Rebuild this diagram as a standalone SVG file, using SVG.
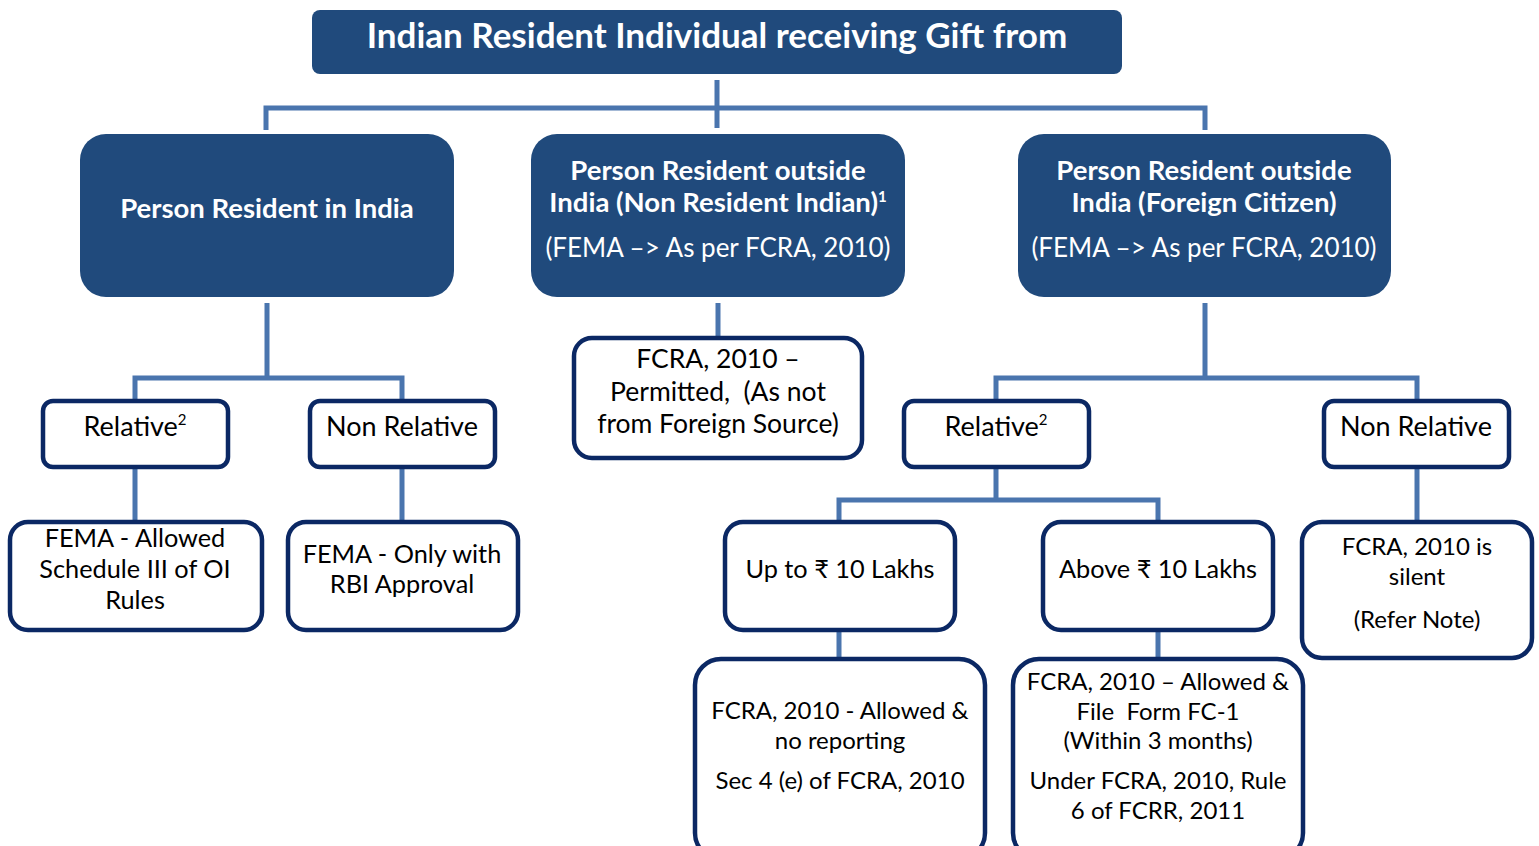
<svg xmlns="http://www.w3.org/2000/svg" width="1539" height="846" viewBox="0 0 1539 846">
<style>
.dark{fill:#204a7c}
.lite{fill:#ffffff;stroke:#0b2864;stroke-width:4.5}
.conn{stroke:#4a75ae;stroke-width:5;fill:none}
text{font-family:Lato,"Noto Sans","DejaVu Sans",sans-serif;text-anchor:middle;white-space:pre}
.w{fill:#ffffff;font-size:26px}
.wb{fill:#ffffff;font-size:27.5px;font-weight:bold}
.t{fill:#000000;font-size:24px}
.t27{fill:#000000;font-size:27px}
.t25{fill:#000000;font-size:25.3px}
.t26{fill:#000000;font-size:26.5px}
.title{fill:#ffffff;font-size:35px;font-weight:bold}
.sup{font-size:15px}
</style>
<rect width="1539" height="846" fill="#ffffff"/>
<g id="connectors">
<path class="conn" d="M717,80 V128 M266,130 V108 H1205 V130"/>
<path class="conn" d="M267,303 V378 M135,400 V378 H402 V400"/>
<path class="conn" d="M135,467 V522 M402,467 V522"/>
<path class="conn" d="M718,303 V338"/>
<path class="conn" d="M1205,303 V378 M996,400 V378 H1417 V400"/>
<path class="conn" d="M996,467 V500 M839,522 V500 H1158 V522"/>
<path class="conn" d="M1417,467 V522"/>
<path class="conn" d="M839,630 V658 M1158,630 V658"/>
</g>
<g id="top">
<rect class="dark" x="312" y="10" width="810" height="64" rx="8"/>
<text class="title" x="717" y="48">Indian Resident Individual receiving Gift from</text>
</g>
<g id="resident-india">
<rect class="dark" x="80" y="134" width="374" height="163" rx="26"/>
<text class="wb" x="267" y="218">Person Resident in India</text>
</g>
<g id="nri">
<rect class="dark" x="531" y="134" width="374" height="163" rx="26"/>
<text class="wb" x="718" y="180">Person Resident outside</text>
<text class="wb" x="718" y="212">India (Non Resident Indian)<tspan class="sup" dy="-10">1</tspan></text>
<text class="w" x="718" y="257">(FEMA –&gt; As per FCRA, 2010)</text>
</g>
<g id="foreign">
<rect class="dark" x="1018" y="134" width="373" height="163" rx="26"/>
<text class="wb" x="1204" y="180">Person Resident outside</text>
<text class="wb" x="1204" y="212">India (Foreign Citizen)</text>
<text class="w" x="1204" y="257">(FEMA –&gt; As per FCRA, 2010)</text>
</g>
<g id="relative-left">
<rect class="lite" x="43" y="401" width="185" height="66" rx="10"/>
<text class="t27" x="135" y="436">Relative<tspan class="sup" dy="-11">2</tspan></text>
</g>
<g id="nonrelative-left">
<rect class="lite" x="310" y="401" width="185" height="66" rx="10"/>
<text class="t27" x="402" y="436">Non Relative</text>
</g>
<g id="fema-allowed">
<rect class="lite" x="10" y="522" width="252" height="108" rx="18"/>
<text class="t25" x="135" y="547">FEMA - Allowed</text>
<text class="t25" x="135" y="578">Schedule III of OI</text>
<text class="t25" x="135" y="609">Rules</text>
</g>
<g id="fema-rbi">
<rect class="lite" x="288" y="522" width="230" height="108" rx="18"/>
<text class="t25" x="402" y="563">FEMA - Only with</text>
<text class="t25" x="402" y="593">RBI Approval</text>
</g>
<g id="fcra-permitted">
<rect class="lite" x="574" y="338" width="288" height="120" rx="18"/>
<text class="t26" x="718" y="368">FCRA, 2010 –</text>
<text class="t26" x="718" y="401">Permitted,  (As not</text>
<text class="t26" x="718" y="433">from Foreign Source)</text>
</g>
<g id="relative-right">
<rect class="lite" x="904" y="401" width="185" height="66" rx="10"/>
<text class="t27" x="996" y="436">Relative<tspan class="sup" dy="-11">2</tspan></text>
</g>
<g id="nonrelative-right">
<rect class="lite" x="1324" y="401" width="185" height="66" rx="10"/>
<text class="t27" x="1416" y="436">Non Relative</text>
</g>
<g id="upto">
<rect class="lite" x="725" y="522" width="230" height="108" rx="18"/>
<text class="t25" x="840" y="578">Up to ₹ 10 Lakhs</text>
</g>
<g id="above">
<rect class="lite" x="1043" y="522" width="230" height="108" rx="18"/>
<text class="t25" x="1158" y="578">Above ₹ 10 Lakhs</text>
</g>
<g id="silent">
<rect class="lite" x="1302" y="522" width="230" height="136" rx="20"/>
<text class="t" x="1417" y="555">FCRA, 2010 is</text>
<text class="t" x="1417" y="585">silent</text>
<text class="t" x="1417" y="628">(Refer Note)</text>
</g>
<g id="no-reporting">
<rect class="lite" x="695" y="659" width="290" height="200" rx="26"/>
<text class="t" x="840" y="719">FCRA, 2010 - Allowed &amp;</text>
<text class="t" x="840" y="749">no reporting</text>
<text class="t" x="840" y="789">Sec 4 (e) of FCRA, 2010</text>
</g>
<g id="fc1">
<rect class="lite" x="1013" y="659" width="290" height="200" rx="26"/>
<text class="t" x="1158" y="690">FCRA, 2010 – Allowed &amp;</text>
<text class="t" x="1158" y="720">File  Form FC-1</text>
<text class="t" x="1158" y="749">(Within 3 months)</text>
<text class="t" x="1158" y="789">Under FCRA, 2010, Rule</text>
<text class="t" x="1158" y="819">6 of FCRR, 2011</text>
</g>
</svg>
